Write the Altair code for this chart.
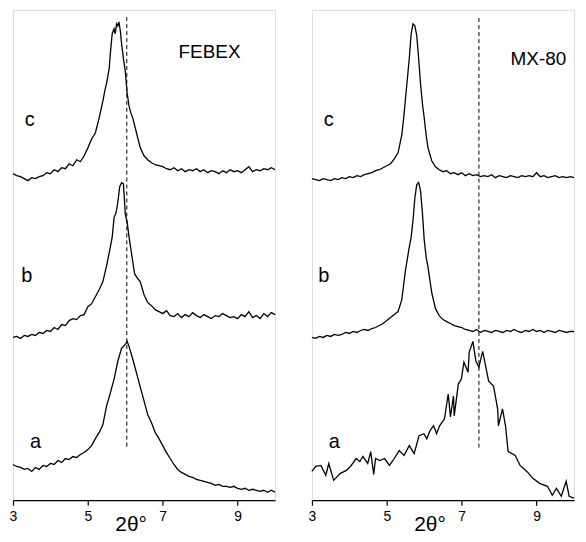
import altair as alt
import pandas as pd

# ---- data: (2theta in degrees, intensity in offset a.u.) ----
FEBEX_C = [(3.0,329),(3.1,327),(3.2,326),(3.3,324),(3.4,322),(3.5,325),(3.6,324),(3.7,326),(3.8,327),(3.9,330),
           (4.0,329),(4.1,333),(4.2,331),(4.3,335),(4.4,334),(4.5,339),(4.6,337),(4.7,343),(4.8,341),(4.9,347),
           (5.0,355),(5.1,364),(5.2,370),(5.3,385),(5.4,402),(5.46,414),(5.5,420),(5.57,435),(5.6,450),(5.65,470),
           (5.7,475),(5.73,470),(5.77,480),(5.8,478),(5.83,482),(5.87,472),(5.9,460),(5.95,445),(6.0,432),(6.05,410),
           (6.1,397),(6.15,390),(6.2,385),(6.3,370),(6.4,355),(6.5,347),(6.6,343),(6.7,340),(6.8,338),(6.9,337),
           (7.0,336),(7.1,334),(7.2,333),(7.3,335),(7.4,332),(7.5,334),(7.6,331),(7.7,333),(7.8,332),(7.9,334),
           (8.0,331),(8.1,333),(8.2,330),(8.3,332),(8.4,331),(8.5,329),(8.6,332),(8.7,330),(8.8,333),(8.9,331),
           (9.0,332),(9.1,330),(9.2,333),(9.3,336),(9.4,331),(9.5,333),(9.6,332),(9.7,334),(9.8,333),(9.9,335),(10.0,333)]

FEBEX_B = [(3.0,164),(3.1,165),(3.2,163),(3.3,166),(3.4,165),(3.5,167),(3.6,166),(3.7,169),(3.8,168),(3.9,171),
           (4.0,170),(4.1,174),(4.2,172),(4.3,177),(4.4,176),(4.5,181),(4.6,183),(4.7,182),(4.8,186),(4.9,187),
           (5.0,195),(5.1,198),(5.2,205),(5.3,212),(5.4,220),(5.5,236),(5.6,255),(5.65,265),(5.7,285),(5.75,289),
           (5.8,300),(5.85,316),(5.9,320),(5.95,319),(6.0,288),(6.05,280),(6.1,265),(6.2,240),(6.25,228),(6.3,225),
           (6.4,220),(6.5,207),(6.6,199),(6.7,196),(6.8,192),(6.9,190),
           (7.0,188),(7.1,191),(7.2,186),(7.3,185),(7.4,188),(7.5,184),(7.6,187),(7.7,185),(7.8,189),(7.9,186),
           (8.0,184),(8.1,187),(8.2,185),(8.3,183),(8.4,186),(8.5,185),(8.6,188),(8.7,186),(8.8,184),(8.9,185),
           (9.0,183),(9.1,187),(9.2,185),(9.3,190),(9.4,184),(9.5,186),(9.6,183),(9.7,188),(9.8,185),(9.9,189),(10.0,187)]

FEBEX_A = [(3.0,36),(3.1,34),(3.2,33),(3.3,31),(3.4,32),(3.5,29),(3.6,33),(3.7,31),(3.8,35),(3.9,34),
           (4.0,37),(4.1,36),(4.2,40),(4.3,38),(4.4,42),(4.5,41),(4.6,44),(4.7,43),(4.8,46),(4.9,48),
           (5.0,51),(5.1,55),(5.2,62),(5.3,68),(5.4,76),(5.5,95),(5.6,108),(5.7,122),(5.8,140),(5.9,153),
           (6.0,157),(6.05,160),(6.1,155),(6.2,142),(6.3,128),(6.4,114),(6.5,100),(6.6,86),(6.7,78),(6.8,68),
           (6.9,62),(7.0,55),(7.1,48),(7.2,42),(7.3,36),(7.4,31),(7.5,28),(7.6,26),(7.7,24),(7.8,23),
           (7.9,21),(8.0,20),(8.1,19),(8.2,18),(8.3,17),(8.4,15),(8.5,16),(8.6,14),(8.7,14),(8.8,13),
           (8.9,14),(9.0,12),(9.1,11),(9.2,12),(9.3,10),(9.4,11),(9.5,10),(9.6,9),(9.7,10),(9.8,8),(9.9,10),(10.0,8)]

MX80_C = [(3.0,324),(3.1,323),(3.2,322),(3.3,324),(3.4,323),(3.5,322),(3.6,324),(3.7,323),(3.8,325),(3.9,324),
          (4.0,326),(4.1,325),(4.2,327),(4.3,326),(4.4,328),(4.5,329),(4.6,330),(4.7,332),(4.8,333),(4.9,335),
          (5.0,337),(5.1,339),(5.2,344),(5.3,350),(5.4,368),(5.45,385),(5.5,405),(5.55,425),(5.6,445),(5.65,470),
          (5.7,480),(5.75,478),(5.8,468),(5.85,445),(5.9,420),(5.95,400),(6.0,385),(6.05,368),(6.1,355),(6.2,342),
          (6.3,336),(6.4,333),(6.5,331),(6.6,332),(6.7,329),(6.8,330),(6.9,328),
          (7.0,330),(7.1,327),(7.2,329),(7.3,327),(7.4,328),(7.5,326),(7.6,327),(7.7,326),(7.8,328),(7.9,325),
          (8.0,327),(8.1,326),(8.2,325),(8.3,327),(8.4,326),(8.5,325),(8.6,327),(8.7,326),(8.8,327),(8.9,326),
          (9.0,330),(9.1,326),(9.2,327),(9.3,325),(9.4,326),(9.5,327),(9.6,325),(9.7,326),(9.8,325),(9.9,326),(10.0,325)]

MX80_B = [(3.0,164),(3.1,163),(3.2,165),(3.3,164),(3.4,166),(3.5,165),(3.6,167),(3.7,166),(3.8,167),(3.9,169),
          (4.0,168),(4.1,170),(4.2,169),(4.3,171),(4.4,172),(4.5,171),(4.6,173),(4.7,174),(4.8,176),(4.9,178),
          (5.0,181),(5.1,184),(5.2,187),(5.3,190),(5.4,202),(5.5,232),(5.6,255),(5.65,265),(5.7,282),(5.75,305),
          (5.8,318),(5.85,320),(5.9,312),(5.95,290),(6.0,262),(6.05,245),(6.1,235),(6.15,222),(6.2,209),(6.3,193),
          (6.4,186),(6.5,182),(6.6,180),(6.7,178),(6.8,176),(6.9,175),
          (7.0,174),(7.1,172),(7.2,171),(7.3,170),(7.4,172),(7.5,169),(7.6,171),(7.7,170),(7.8,169),(7.9,171),
          (8.0,170),(8.1,169),(8.2,171),(8.3,170),(8.4,172),(8.5,170),(8.6,169),(8.7,171),(8.8,170),(8.9,172),
          (9.0,170),(9.1,171),(9.2,169),(9.3,171),(9.4,170),(9.5,169),(9.6,171),(9.7,170),(9.8,169),(9.9,170),(10.0,170)]

MX80_A = [(3.00,29),(3.10,34),(3.24,35),(3.37,25),(3.45,37),(3.58,20),(3.76,27),(3.92,30),(4.05,35),(4.18,42),
          (4.28,39),(4.36,44),(4.49,37),(4.57,49),(4.65,26),(4.70,42),(4.81,40),(4.94,42),(5.07,35),(5.20,42),
          (5.33,50),(5.46,45),(5.60,55),(5.73,47),(5.86,65),(5.99,67),(6.07,62),(6.15,70),(6.25,75),(6.33,67),
          (6.41,75),(6.54,82),(6.64,107),(6.70,84),(6.78,105),(6.80,85),(6.91,117),(6.99,122),(7.06,139),(7.17,129),
          (7.20,149),(7.30,160),(7.38,140),(7.46,134),(7.56,150),(7.64,135),(7.72,120),(7.85,115),(7.96,92),(7.98,75),
          (8.09,92),(8.17,75),(8.24,49),(8.43,45),(8.56,35),(8.74,29),(8.90,22),(9.08,17),(9.29,14),(9.42,5),
          (9.53,12),(9.66,4),(9.79,19),(9.87,4),(10.00,2)]

# reference (dashed) lines: 2theta, lower and upper intensity
FEBEX_REF = (6.04, 54, 488)
MX80_REF = (7.46, 53, 487)

CURVE_LABELS = ["a", "b", "c"]
FEBEX_LABEL_POS = [(3.6, 59), (3.37, 226), (3.45, 383)]
MX80_LABEL_POS = [(3.6, 59), (3.32, 226), (3.45, 383)]
PANEL_NAMES = ["FEBEX", "MX-80"]
PANEL_NAME_POS = [(8.25, 452), (9.05, 445)]

TICK_VALUES = [3 + 0.5 * i for i in range(15)]
FONT = "Liberation Sans"
PANEL_W = 263
PANEL_H = 492


def frame(pairs, curve):
    return pd.DataFrame({"two_theta": [p[0] for p in pairs],
                         "intensity": [p[1] for p in pairs],
                         "curve": curve})


def panel(curves, ref, label_pos, name, name_pos):
    lines_df = pd.concat([frame(p, c) for c, p in zip(CURVE_LABELS, curves)], ignore_index=True)
    xscale = alt.Scale(domain=[3, 10], nice=False, zero=False)
    yscale = alt.Scale(domain=[0, 494], nice=False, zero=False)
    x = alt.X("two_theta:Q", scale=xscale,
              axis=alt.Axis(values=TICK_VALUES, grid=False, ticks=True,
                            labelExpr="datum.value % 2 === 1 ? datum.label : ''",
                            tickSize=5,
                            tickColor="black", domainColor="black", tickWidth=1.2, domainWidth=1.2,
                            labelFont=FONT, labelFontSize=14, labelColor="black", labelPadding=4,
                            title="2θ°", titleFont=FONT, titleFontSize=21, titleFontWeight="normal",
                            titleColor="black", titleX=118, titleY=30, titleAlign="center",
                            titleBaseline="alphabetic", labelFlush=False))
    y = alt.Y("intensity:Q", scale=yscale, axis=None)

    lines = alt.Chart(lines_df).mark_line(color="black", strokeWidth=1.3).encode(
        x=x, y=y, detail="curve:N")

    ref_df = pd.DataFrame({"two_theta": [ref[0]], "intensity": [ref[1]], "top": [ref[2]]})
    rule = alt.Chart(ref_df).mark_rule(color="black", strokeDash=[4, 3], strokeWidth=1).encode(
        x=alt.X("two_theta:Q"), y=alt.Y("intensity:Q"), y2="top:Q")

    lab_df = pd.DataFrame({"two_theta": [p[0] for p in label_pos],
                           "intensity": [p[1] for p in label_pos],
                           "label": CURVE_LABELS})
    labels = alt.Chart(lab_df).mark_text(font=FONT, fontSize=20, color="black",
                                         align="center", baseline="middle").encode(
        x=alt.X("two_theta:Q"), y=alt.Y("intensity:Q"), text="label:N")

    name_df = pd.DataFrame({"two_theta": [name_pos[0]], "intensity": [name_pos[1]], "label": [name]})
    name_txt = alt.Chart(name_df).mark_text(font=FONT, fontSize=19, color="black",
                                            align="center", baseline="middle").encode(
        x=alt.X("two_theta:Q"), y=alt.Y("intensity:Q"), text="label:N")

    return alt.layer(lines, rule, labels, name_txt).properties(width=PANEL_W, height=PANEL_H)


left = panel([FEBEX_A, FEBEX_B, FEBEX_C], FEBEX_REF, FEBEX_LABEL_POS, PANEL_NAMES[0], PANEL_NAME_POS[0])
right = panel([MX80_A, MX80_B, MX80_C], MX80_REF, MX80_LABEL_POS, PANEL_NAMES[1], PANEL_NAME_POS[1])

chart = alt.hconcat(left, right, spacing=37, bounds="flush").properties(
    padding={"left": 0, "top": 0, "right": 0, "bottom": 0}
).configure_view(stroke=None).configure(background="white")

chart.save("out.html", embed_options={"renderer": "svg", "actions": False})
